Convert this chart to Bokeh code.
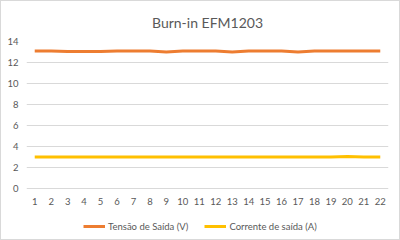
from bokeh.plotting import figure
from bokeh.models import Range1d, FixedTicker, Legend, LegendItem, ColumnDataSource
from bokeh.core.properties import value
from bokeh.embed import file_html
from bokeh.resources import INLINE

categories = list(range(1, 23))
tensao = [13.1, 13.1, 13.05, 13.05, 13.05, 13.1, 13.1, 13.1, 13.0, 13.1, 13.1,
          13.1, 13.0, 13.1, 13.1, 13.1, 13.0, 13.1, 13.1, 13.1, 13.1, 13.1]
corrente = [3.0, 3.0, 3.0, 3.0, 3.0, 3.0, 3.0, 3.0, 3.0, 3.0, 3.0,
            3.0, 3.0, 3.0, 3.0, 3.0, 3.0, 3.0, 3.0, 3.05, 3.0, 3.0]
y_ticks = [0, 2, 4, 6, 8, 10, 12, 14]
x_labels = [str(c) for c in categories]
title = "Burn-in EFM1203"
names = ["Tensão de Saída (V)", "Corrente de saída (A)"]
colors = ["#ED7D31", "#FFC000"]

FONT = "Lato"
TXT = "#595959"

# frame extends below the value axis to hold category labels and legend
p = figure(frame_width=362, frame_height=198, output_backend="svg",
           toolbar_location=None, x_axis_location=None,
           x_range=Range1d(0.5, 22.5), y_range=Range1d(-4.86, 14),
           min_border_left=25, min_border_right=11, min_border_top=0,
           min_border_bottom=0)
p.styles = {"border": "1px solid #D9D9D9"}
p.title.text = title
p.title.align = "center"
p.title.text_font = FONT
p.title.text_font_size = "14px"
p.title.text_font_style = "normal"
p.title.text_color = TXT
p.title.standoff = 21

p.outline_line_color = None
p.background_fill_color = "white"
p.border_fill_color = "white"

ax = p.yaxis[0]
ax.axis_line_color = None
ax.major_tick_line_color = None
ax.minor_tick_line_color = None
ax.major_tick_out = 0
ax.major_tick_in = 0
ax.minor_tick_out = 0
ax.major_label_text_font = FONT
ax.major_label_text_font_size = "9.5px"
ax.major_label_text_color = TXT
ax.ticker = FixedTicker(ticks=y_ticks)
ax.major_label_standoff = 8

p.xgrid.grid_line_color = None
p.ygrid.grid_line_color = "#D9D9D9"
p.ygrid.ticker = FixedTicker(ticks=y_ticks)

# category labels under the zero line
lab_src = ColumnDataSource(dict(x=categories, y=[-1.24] * len(categories),
                                t=x_labels))
p.text(x="x", y="y", text="t", source=lab_src, text_align="center",
       text_baseline="middle", text_font=value(FONT),
       text_font_size="9.5px", text_color=TXT)

r1 = p.line(categories, tensao, line_color=colors[0], line_width=3)
r2 = p.line(categories, corrente, line_color=colors[1], line_width=3)

legend = Legend(items=[LegendItem(label=names[0], renderers=[r1]),
                       LegendItem(label=names[1], renderers=[r2])],
                orientation="horizontal", location=(57, 3),
                label_text_font=FONT, label_text_font_size="9.5px",
                label_text_color=TXT, border_line_color=None,
                background_fill_alpha=0, glyph_width=22, glyph_height=20,
                label_standoff=3, spacing=16, padding=3, margin=0)
p.add_layout(legend, "center")

open("out.html", "w").write(file_html(p, INLINE))
